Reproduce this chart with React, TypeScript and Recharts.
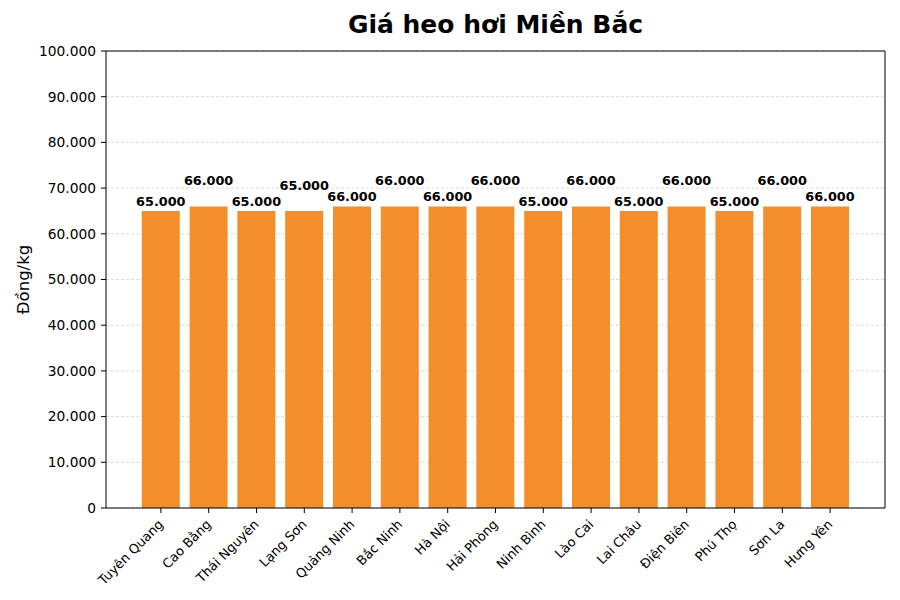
import { Bar, BarChart, CartesianGrid, LabelList, ReferenceLine, XAxis, YAxis } from "recharts"

const provinces = [
  "Tuyên Quang",
  "Cao Bằng",
  "Thái Nguyên",
  "Lạng Sơn",
  "Quảng Ninh",
  "Bắc Ninh",
  "Hà Nội",
  "Hải Phòng",
  "Ninh Bình",
  "Lào Cai",
  "Lai Châu",
  "Điện Biên",
  "Phú Thọ",
  "Sơn La",
  "Hưng Yên",
]

const prices = [65000, 66000, 65000, 65000, 66000, 66000, 66000, 66000, 65000, 66000, 65000, 66000, 65000, 66000, 66000]

const yTicks = [0, 10000, 20000, 30000, 40000, 50000, 60000, 70000, 80000, 90000, 100000]

const data = provinces.map((name, i) => ({ name, price: prices[i] }))

const font = "'DejaVu Sans', sans-serif"

const fmt = (v: number) => String(v).replace(/\B(?=(\d{3})+(?!\d))/g, ".")

function XTick(props: any) {
  const { x, y, payload } = props
  return (
    <g transform={`translate(${x},${y + 7})`}>
      <text
        transform="rotate(-45)"
        textAnchor="end"
        dominantBaseline="central"
        fontSize={13}
        fontFamily={font}
        fill="#000"
      >
        {payload.value}
      </text>
    </g>
  )
}

function PriceLabel(props: any) {
  const { x, y, width, value, index } = props
  const lift = index % 2 === 1 ? 16 : 0
  return (
    <text
      x={x + width / 2}
      y={y - 5 - lift}
      textAnchor="middle"
      fontSize={12.8}
      fontWeight="bold"
      fontFamily={font}
      fill="#000"
    >
      {fmt(value)}
    </text>
  )
}

export default function App() {
  return (
    <div style={{ position: "absolute", left: 0, top: 0, width: 900, height: 600, background: "#fff" }}>
      <div
        style={{
          position: "absolute",
          left: 106,
          width: 779,
          top: 10,
          textAlign: "center",
          fontFamily: font,
          fontWeight: "bold",
          fontSize: 25,
          color: "#000",
        }}
      >
        Giá heo hơi Miền Bắc
      </div>
      <BarChart
        width={900}
        height={600}
        data={data}
        margin={{ top: 51, right: 0, bottom: 0, left: 0 }}
        barCategoryGap="10%"
      >
        <CartesianGrid vertical={false} stroke="#d0d0d0" strokeDasharray="3 2" strokeWidth={0.8} />
        <XAxis
          dataKey="name"
          interval={0}
          height={92}
          padding={{ left: 31, right: 31 }}
          tick={<XTick />}
          tickSize={5}
          stroke="#000"
          tickLine={{ stroke: "#000" }}
          axisLine={{ stroke: "#000" }}
        />
        <YAxis
          width={106}
          domain={[0, 100000]}
          ticks={yTicks}
          tickFormatter={fmt}
          tickSize={5}
          tickMargin={5}
          interval={0}
          tick={{ fontSize: 13.8, fontFamily: font, fill: "#000" }}
          stroke="#000"
          label={{
            value: "Đồng/kg",
            angle: -90,
            position: "insideLeft",
            dx: 18,
            style: { fontSize: 16.5, fontFamily: font, fill: "#000", textAnchor: "middle" },
          }}
        />
        <YAxis yAxisId="right" orientation="right" width={15} tick={false} tickLine={false} stroke="#000" />
        <ReferenceLine y={100000} stroke="#000" ifOverflow="extendDomain" />
        <Bar dataKey="price" fill="#F28E2B" isAnimationActive={false}>
          <LabelList dataKey="price" content={<PriceLabel />} />
        </Bar>
      </BarChart>
    </div>
  )
}
